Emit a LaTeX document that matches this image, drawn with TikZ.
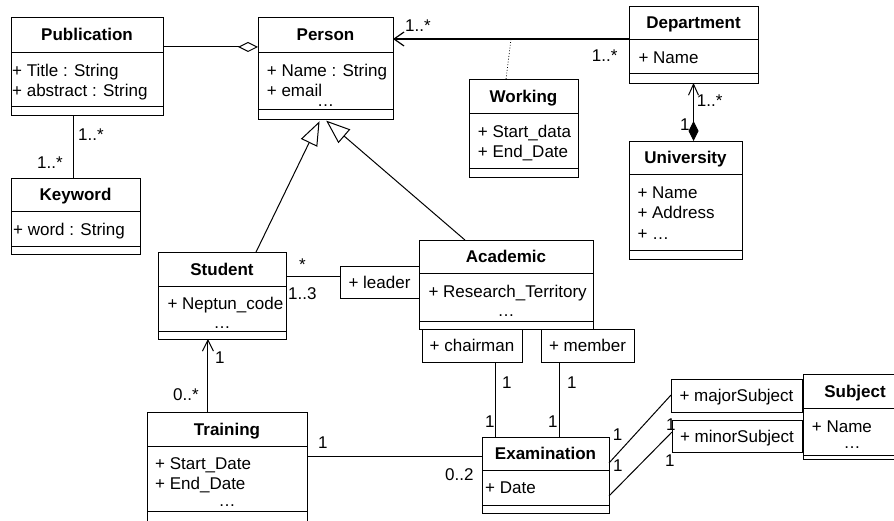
\documentclass[tikz,border=0pt]{standalone}
\usepackage{fontspec}
\setmainfont{Liberation Sans}
\usetikzlibrary{arrows.meta,calc}
\newcommand\umlA{\fontsize{17}{20.7}\selectfont}
\newcommand\umlB{\fontsize{17}{20.7}\selectfont\bfseries}
% name, x0, y0, x1, y1, header divider, attribute divider, title
\newcommand\umlclass[8]{%
  \node[classbox, minimum width={(#4-#2)*1pt}, minimum height={(#5-#3)*1pt}] (#1) at (#2,#3) {};
  \node[classhead, minimum width={(#4-#2)*1pt}, minimum height={(#6-#3)*1pt}] (#1-h) at (#2,#3) {#8};
  \draw[boxline] (#2,#7) -- (#4,#7);
}
% name, x, first baseline, text
\newcommand\umlattr[4]{%
  \node[attrtext] (#1-a) at (#2,{#3-14.49}) {\strut #4};
}
\newcommand\umlrole[6]{%
  \node[rolebox, minimum width={(#4-#2)*1pt}, minimum height={(#5-#3)*1pt}] (#1) at (#2,#3) {#6};
}
\begin{document}
\begin{tikzpicture}[x=1pt,y=-1pt,
  boxline/.style={line width=1pt},
  classbox/.style={draw, line width=1pt, anchor=north west, inner sep=0pt, outer sep=0pt},
  classhead/.style={draw, line width=1pt, anchor=north west, inner sep=0pt, outer sep=0pt, font=\umlB, text height=12.2pt, text depth=0pt},
  rolebox/.style={draw, line width=1pt, anchor=north west, inner sep=0pt, outer sep=0pt, font=\umlA, text height=12.2pt, text depth=0pt},
  attrtext/.style={anchor=north west, inner sep=0pt, align=left, font=\umlA},
  dotstext/.style={anchor=base, inner sep=0pt, font=\umlA},
  mult/.style={anchor=base west, inner sep=0pt, font=\umlA},
  conn/.style={line width=1pt},
  gen/.style={line width=1pt, -{Triangle[open, length=24pt, width=18pt]}, shorten >=2.5pt},
  navarrow/.style={line width=1pt, -{Straight Barb[length=11pt, width=11pt]}},
]
\useasboundingbox (0,0) rectangle (894,520);
\clip (0,0) rectangle (894,520);
\fill[white] (0,0) rectangle (894,520);

% classes
\umlclass{pub}{11}{17}{163}{115}{52}{106}{Publication}
\umlattr{pub}{12}{76}{+ Title : String\\+ abstract : String}
\umlclass{kw}{11}{178}{140}{254}{211}{246}{Keyword}
\umlattr{kw}{13}{235}{+ word : String}
\umlclass{person}{258}{17}{393}{119}{52}{109}{Person}
\umlattr{person}{266.7}{76}{+ Name : String\\+ email\\[-11.4pt]\hspace*{50.3pt}…}
\umlclass{dept}{629}{6}{758}{83}{39}{73}{Department}
\umlattr{dept}{638.3}{63}{+ Name}
\umlclass{working}{469}{79}{578}{177}{113}{168}{Working}
\umlattr{working}{477.7}{137}{+ Start\_data\\+ End\_Date}
\umlclass{univ}{629}{141}{742}{259}{174}{250}{University}
\umlattr{univ}{637.3}{198}{+ Name\\+ Address\\+ …}
\umlclass{student}{158}{252}{286}{339}{286}{331}{Student}
\umlattr{student}{167.3}{309}{+ Neptun\_code}
\node[dotstext] (student-d) at (222,328.5) {…};
\umlclass{academic}{419}{240}{593}{329}{273}{321}{Academic}
\umlattr{academic}{428.3}{297}{+ Research\_Territory}
\node[dotstext] (academic-d) at (506,316.5) {…};
\umlclass{training}{147}{412}{307}{522}{446}{511}{Training}
\umlattr{training}{155}{469}{+ Start\_Date\\+ End\_Date}
\node[dotstext] (training-d) at (227,506.5) {…};
\umlclass{exam}{482}{437}{609}{513}{470}{505}{Examination}
\umlattr{exam}{485}{493}{+ Date}
\umlclass{subject}{803}{374}{907}{459}{408}{455}{Subject}
\umlattr{subject}{811.7}{432}{+ Name}
\node[dotstext] (subject-d) at (852,448.5) {…};

% role boxes
\umlrole{leader}{340}{266}{419}{298}{+ leader}
\umlrole{chair}{422}{329}{522}{362}{+ chairman}
\umlrole{member}{541}{329}{634}{362}{+ member}
\umlrole{major}{671}{379}{802}{412}{+ majorSubject}
\umlrole{minor}{672}{420}{802}{452}{+ minorSubject}

% connectors
\coordinate (pubagg) at ($(pub.north east)!0.306!(pub.south east)$);
\draw[conn, -{Diamond[open, length=20pt, width=10pt]}] (pubagg) -- (pubagg -| person.west);

\coordinate (pubkw) at ($(pub.south west)!0.408!(pub.south east)$);
\draw[conn] (pubkw) -- (pubkw |- kw.north);

\draw[line width=1.2pt, -{Straight Barb[length=10pt, width=14pt]}] (dept-h.south west) -- (dept-h.south west -| person.east);
\coordinate (workmid) at ($(dept-h.south west)!0.5!(dept-h.south west -| person.east)$);
\draw[line width=0.8pt, dotted] ($(working.north west)!0.34!(working.north east)$) -- (workmid);

\draw[conn, {Straight Barb[length=11pt, width=10pt]}-{Diamond[length=20pt, width=10pt]}] (dept.south) -- (dept.south |- univ.north);

\coordinate (trst) at ($(training.north west)!0.381!(training.north east)$);
\draw[navarrow] (trst) -- (trst |- student.south);

\coordinate (stlead) at ($(student.north east)!0.287!(student.south east)$);
\draw[conn] (stlead) -- (stlead -| leader.west);

\draw[gen] ($(student.north west)!0.766!(student.north east)$) -- ($(person.south west)!0.464!(person.south east)$);
\draw[gen] ($(academic.north west)!0.264!(academic.north east)$) -- ($(person.south west)!0.491!(person.south east)$);

\coordinate (chairex) at ($(chair.south west)!0.73!(chair.south east)$);
\draw[conn] (chairex) -- (chairex |- exam.north);
\coordinate (memex) at ($(member.south west)!0.204!(member.south east)$);
\draw[conn] (memex) -- (memex |- exam.north);

\coordinate (trex) at ($(exam.north west)!0.25!(exam.south west)$);
\draw[conn] (trex -| training.east) -- (trex);

\draw[conn] ($(exam.north east)!0.342!(exam.south east)$) -- ($(major.north west)!0.485!(major.south west)$);
\draw[conn] ($(exam.north east)!0.776!(exam.south east)$) -- ($(minor.north west)!0.375!(minor.south west)$);

% multiplicities
\node[mult] (m1) at (78,140) {1..*};
\node[mult] (m2) at (37,168) {1..*};
\node[mult] (m3) at (405,31.7) {1..*};
\node[mult] (m4) at (591.7,61.7) {1..*};
\node[mult] (m5) at (696.7,106.7) {1..*};
\node[mult] (m6) at (680,130) {1};
\node[mult] (m7) at (299,270) {*};
\node[mult] (m8) at (288,299) {1..3};
\node[mult] (m9) at (215,363) {1};
\node[mult] (m10) at (173,400) {0..*};
\node[mult] (m11) at (502,388) {1};
\node[mult] (m12) at (567,388) {1};
\node[mult] (m13) at (485,427) {1};
\node[mult] (m14) at (548,427) {1};
\node[mult] (m15) at (318,448) {1};
\node[mult] (m16) at (445,480) {0..2};
\node[mult] (m17) at (612.7,440) {1};
\node[mult] (m18) at (613,471.7) {1};
\node[mult] (m19) at (666,430) {1};
\node[mult] (m20) at (665,466.7) {1};
\end{tikzpicture}
\end{document}
